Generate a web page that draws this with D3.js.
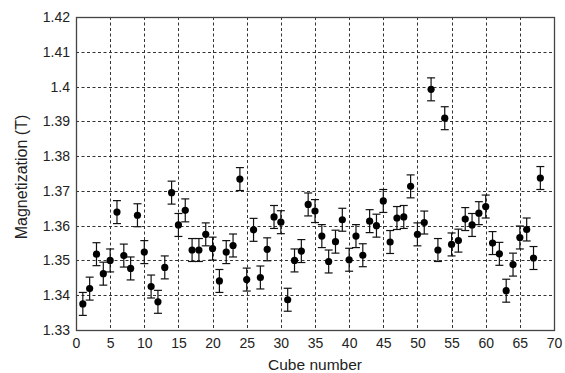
<!DOCTYPE html>
<html><head><meta charset="utf-8">
<script src="https://cdn.jsdelivr.net/npm/d3@7"></script>
<style>
body{margin:0;background:#fff;}
svg text{font-family:"Liberation Sans",Arial,sans-serif;fill:#222;}
</style></head>
<body><svg id="c" width="565" height="373"></svg>
<script>
const cubes = d3.range(1, 69);
const magnetization = [
 1.3375,1.3419,1.3518,1.3462,1.3500,1.3639,1.3514,1.3477,1.3630,1.3524,
 1.3425,1.3381,1.3480,1.3695,1.3602,1.3644,1.3530,1.3530,1.3575,1.3534,
 1.3441,1.3524,1.3543,1.3734,1.3445,1.3588,1.3451,1.3532,1.3625,1.3610,
 1.3387,1.3500,1.3527,1.3661,1.3642,1.3570,1.3497,1.3554,1.3617,1.3502,
 1.3570,1.3515,1.3613,1.3600,1.3671,1.3553,1.3622,1.3625,1.3713,1.3575,
 1.3609,1.3992,1.3530,1.3909,1.3546,1.3557,1.3619,1.3602,1.3636,1.3655,
 1.3550,1.3519,1.3413,1.3488,1.3566,1.3589,1.3507,1.3737];
const errors = magnetization.map(() => 0.0033);
const xTicks = [0,5,10,15,20,25,30,35,40,45,50,55,60,65,70];
const yTicks = [1.33,1.34,1.35,1.36,1.37,1.38,1.39,1.40,1.41,1.42];
const yTickLabels = ["1.33","1.34","1.35","1.36","1.37","1.38","1.39","1.4","1.41","1.42"];

const svg = d3.select("#c");
const L=76, R=554, T=17, B=330;
const x = d3.scaleLinear().domain([0,70]).range([L,R]);
const y = d3.scaleLinear().domain([1.33,1.42]).range([B,T]);

// grid
const grid = svg.append("g").attr("stroke","#333").attr("stroke-width",1).attr("stroke-dasharray","3,2.5");
grid.selectAll(".gx").data(xTicks.slice(1,-1)).join("line")
  .attr("x1",d=>Math.round(x(d))+0.5).attr("x2",d=>Math.round(x(d))+0.5).attr("y1",T).attr("y2",B);
grid.selectAll(".gy").data(yTicks.slice(1,-1)).join("line")
  .attr("y1",d=>Math.round(y(d))+0.5).attr("y2",d=>Math.round(y(d))+0.5).attr("x1",L).attr("x2",R);

// axes
const xAxis = svg.append("g").attr("transform",`translate(0,${B})`)
  .call(d3.axisBottom(x).tickValues(xTicks).tickSize(0).tickPadding(8));
const yAxis = svg.append("g").attr("transform",`translate(${L},0)`)
  .call(d3.axisLeft(y).tickValues(yTicks).tickSize(0).tickPadding(6).tickFormat((d,i)=>yTickLabels[i]));
[xAxis,yAxis].forEach(a=>{a.select(".domain").remove();a.selectAll("text").attr("font-size",14).attr("fill","#222");});

svg.append("rect").attr("x",L+0.5).attr("y",T+0.5).attr("width",R-L).attr("height",B-T)
  .attr("fill","none").attr("stroke","#444").attr("stroke-width",1.3);

// error bars
const eb = svg.append("g").attr("stroke","#111").attr("stroke-width",1.2);
const pts = cubes.map((c,i)=>({c, v:magnetization[i], e:errors[i]}));
eb.selectAll(".v").data(pts).join("line")
  .attr("x1",d=>x(d.c)).attr("x2",d=>x(d.c)).attr("y1",d=>y(d.v-d.e)).attr("y2",d=>y(d.v+d.e));
eb.selectAll(".t").data(pts).join("line")
  .attr("x1",d=>x(d.c)-4).attr("x2",d=>x(d.c)+4).attr("y1",d=>y(d.v+d.e)).attr("y2",d=>y(d.v+d.e));
eb.selectAll(".b").data(pts).join("line")
  .attr("x1",d=>x(d.c)-4).attr("x2",d=>x(d.c)+4).attr("y1",d=>y(d.v-d.e)).attr("y2",d=>y(d.v-d.e));
svg.append("g").selectAll("circle").data(pts).join("circle")
  .attr("cx",d=>x(d.c)).attr("cy",d=>y(d.v)).attr("r",3.6).attr("fill","#000");

svg.append("text").attr("x",(L+R)/2).attr("y",370).attr("text-anchor","middle").attr("font-size",15.5).text("Cube number");
svg.append("text").attr("transform",`translate(27,177) rotate(-90)`).attr("text-anchor","middle").attr("font-size",16).text("Magnetization (T)");
</script></body></html>
